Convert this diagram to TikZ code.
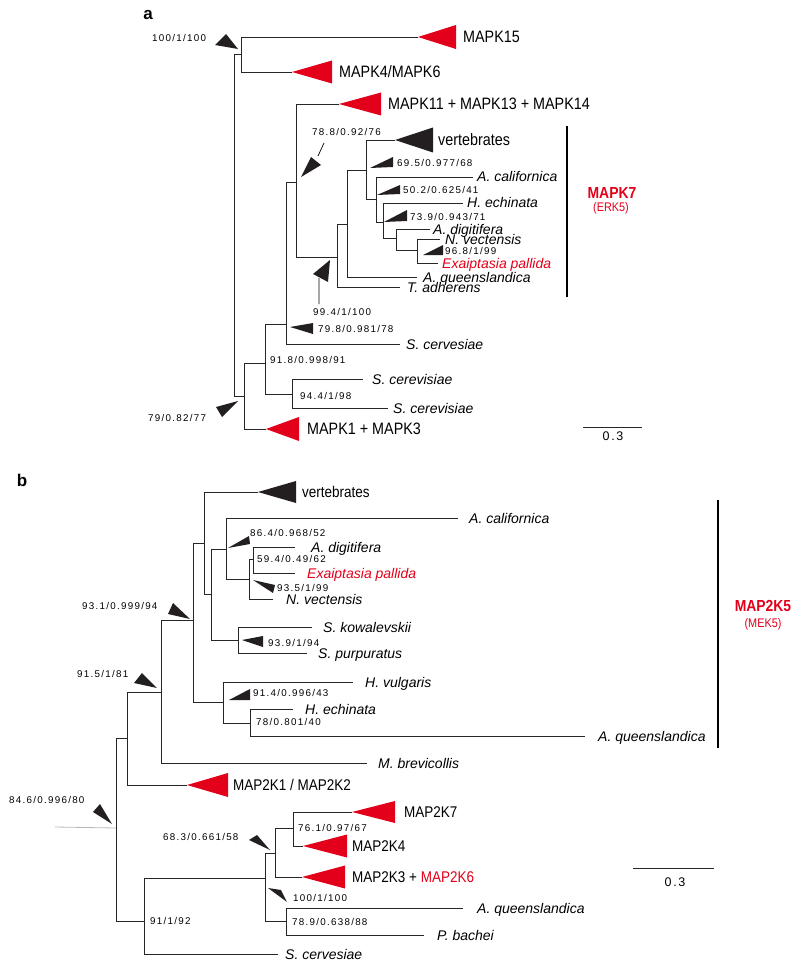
\documentclass[tikz,border=0pt]{standalone}
\usepackage{fontspec}
\setmainfont{Liberation Sans}
\newfontfamily\cladefont[FakeStretch=0.87]{Liberation Sans}
\newfontfamily\supfont[LetterSpace=13]{Liberation Sans}
\usepackage{xcolor}
\usetikzlibrary{positioning}
\definecolor{cladered}{RGB}{226,0,26}
\definecolor{tipblack}{RGB}{35,31,32}
\newcommand{\clade}[4]{\fill[#4] (#1) -- ++(#2,#3) -- ++(0,-2*#3) -- cycle;}

\begin{document}
\begin{tikzpicture}[x=1pt, y=-1pt]
\tikzstyle{br} = [draw=black!85, line width=0.8pt]
\tikzstyle{bar} = [draw=black, line width=1.8pt]
\tikzstyle{sp} = [font=\fontsize{14}{16}\selectfont\itshape, inner sep=0pt, text height=10pt, text depth=0pt]
\tikzstyle{clab} = [font=\cladefont\fontsize{16.5}{18}\selectfont, anchor=west, inner sep=0pt, text height=11.8pt, text depth=0pt]
\tikzstyle{clabb} = [font=\cladefont\fontsize{15.5}{17}\selectfont, anchor=west, inner sep=0pt, text height=11.1pt, text depth=0pt]
\tikzstyle{sup} = [font=\supfont\fontsize{9.8}{11}\selectfont, anchor=west, inner sep=0pt, text height=7pt, text depth=0pt]
\tikzstyle{grp} = [font=\cladefont\bfseries\fontsize{16}{18}\selectfont, text=cladered, inner sep=0pt]
\tikzstyle{grpsub} = [font=\cladefont\fontsize{12.5}{14}\selectfont, text=cladered, inner sep=0pt]
\tikzstyle{scl} = [font=\supfont\fontsize{12.5}{14}\selectfont, inner sep=0pt]
\tikzstyle{ttl} = [font=\bfseries\fontsize{17}{19}\selectfont, inner sep=0pt]
\useasboundingbox (0,0) rectangle (800,968);

% panel a
\node[ttl] (ta) at (148,15) {a};
\coordinate (aR) at (234,54);
\coordinate (aT) at (241,54);
\coordinate (aK15) at (418,37);
\coordinate (aK4) at (292,72);
\coordinate (aL) at (244,396);
\coordinate (aM) at (265,363);
\coordinate (aK1) at (266,429);
\coordinate (aN) at (286,324);
\coordinate (aS) at (292,394);
\coordinate (aSc1) at (363,379);
\coordinate (aSc2) at (388,408);
\coordinate (aSc0) at (400,344);
\coordinate (aE) at (296,182);
\coordinate (aK11) at (339,104);
\coordinate (a7) at (337,257);
\coordinate (aB) at (347,224);
\coordinate (aTa) at (400,287);
\coordinate (aV) at (366,170);
\coordinate (aAq) at (417,277);
\coordinate (aVt) at (395,140);
\coordinate (aC) at (376,199);
\coordinate (aAc) at (473,177);
\coordinate (aH) at (383,222);
\coordinate (aHe) at (463,203);
\coordinate (aD) at (396,238);
\coordinate (aAd) at (430,229);
\coordinate (aX) at (417,250);
\coordinate (aNv) at (440,239);
\coordinate (aEp) at (438,263);
\draw[br] (aR) -- (aT) (aR) |- (aL)
	(aT) |- (aK15) (aT) |- (aK4)
	(aL) |- (aM) (aL) |- (aK1)
	(aM) |- (aN) (aM) |- (aS)
	(aS) |- (aSc1) (aS) |- (aSc2)
	(aN) |- (aE) (aN) |- (aSc0)
	(aE) |- (aK11) (aE) |- (a7)
	(a7) |- (aB) (a7) |- (aTa)
	(aB) |- (aV) (aB) |- (aAq)
	(aV) |- (aVt) (aV) |- (aC)
	(aC) |- (aAc) (aC) |- (aH)
	(aH) |- (aHe) (aH) |- (aD)
	(aD) |- (aAd) (aD) |- (aX)
	(aX) |- (aNv) (aX) |- (aEp);
\clade{aK15}{38}{12}{cladered}
\clade{aK4}{40}{11.5}{cladered}
\clade{aK11}{42}{11.5}{cladered}
\clade{aVt}{38}{12.5}{tipblack}
\clade{aK1}{33}{12}{cladered}
\node[clab] (lK15) at (463,37) {MAPK15};
\node[clab] (lK4) at (339,72) {MAPK4/MAPK6};
\node[clab] (lK11) at (388,104) {MAPK11 + MAPK13 + MAPK14};
\node[clab] (lVt) at (438,140) {vertebrates};
\node[clab] (lK1) at (307,429) {MAPK1 + MAPK3};
\node[sp, right=4pt of aAc] (lAc) {A. californica};
\node[sp, right=4pt of aHe] (lHe) {H. echinata};
\node[sp, right=3pt of aAd] (lAd) {A. digitifera};
\node[sp, right=5pt of aNv] (lNv) {N. vectensis};
\node[sp, right=4pt of aEp, text=cladered] (lEp) {Exaiptasia pallida};
\node[sp, right=6pt of aAq] (lAq) {A. queenslandica};
\node[sp, right=7pt of aTa] (lTa) {T. adherens};
\node[sp, right=6pt of aSc0] (lSc0) {S. cervesiae};
\node[sp, right=9pt of aSc1] (lSc1) {S. cerevisiae};
\node[sp, right=5pt of aSc2] (lSc2) {S. cerevisiae};
% support
\fill[tipblack] (215,45) -- (226,34) -- (238,49) -- cycle;
\fill[tipblack] (301,177) -- (311,157) -- (321,165) -- cycle;
\fill[tipblack] (370,168) -- (393,157) -- (393,167) -- cycle;
\fill[tipblack] (377,195) -- (400,185) -- (400,194) -- cycle;
\fill[tipblack] (384,222) -- (407,210) -- (407,221) -- cycle;
\fill[tipblack] (423,255) -- (443,245) -- (443,255) -- cycle;
\fill[tipblack] (313,274) -- (330,260) -- (328,282) -- cycle;
\fill[tipblack] (290,327) -- (313,323) -- (313,334) -- cycle;
\fill[tipblack] (216,407) -- (238,401) -- (222,417) -- cycle;
\coordinate (q1) at (324,143);
\coordinate (q2) at (318,156);
\coordinate (q3) at (319,278);
\coordinate (q4) at (319,304);
\draw[black, line width=0.7pt] (q1) -- (q2) (q3) -- (q4);
\node[sup] (s1) at (152,38) {100/1/100};
\node[sup] (s2) at (312,132) {78.8/0.92/76};
\node[sup] (s3) at (397,163) {69.5/0.977/68};
\node[sup] (s4) at (403,190) {50.2/0.625/41};
\node[sup] (s5) at (410,217) {73.9/0.943/71};
\node[sup] (s6) at (445,251) {96.8/1/99};
\node[sup] (s7) at (313,312) {99.4/1/100};
\node[sup] (s8) at (318,329) {79.8/0.981/78};
\node[sup] (s9) at (270,360) {91.8/0.998/91};
\node[sup] (s10) at (300,396) {94.4/1/98};
\node[sup] (s11) at (148,418) {79/0.82/77};
% group bar and scale
\coordinate (gA1) at (567,126);
\coordinate (gA2) at (567,297);
\draw[bar] (gA1) -- (gA2);
\node[grp] (gA) at (612,193) {MAPK7};
\node[grpsub] (gAs) at (611,208) {(ERK5)};
\coordinate (sA1) at (583,427);
\coordinate (sA2) at (642,427);
\draw[br] (sA1) -- (sA2);
\node[scl] (sA) at (613,436) {0.3};

% panel b
\node[ttl] (tb) at (22,480) {b};
\coordinate (bS) at (55,827);
\coordinate (bR) at (116,828);
\coordinate (bA) at (127,738);
\coordinate (bG) at (144,921);
\coordinate (bB) at (161,692);
\coordinate (bK1) at (187,785);
\coordinate (bC) at (193,620);
\coordinate (bMb) at (367,763);
\coordinate (bD) at (204,543);
\coordinate (bH) at (223,702);
\coordinate (bVt) at (258,492);
\coordinate (bE) at (211,594);
\coordinate (bF) at (226,549);
\coordinate (bK) at (238,640);
\coordinate (bAc) at (458,518);
\coordinate (bN) at (249,579);
\coordinate (bX) at (253,559);
\coordinate (bNv) at (273,599);
\coordinate (bAd) at (295,547);
\coordinate (bEp) at (295,573);
\coordinate (bSk) at (312,627);
\coordinate (bSp) at (307,653);
\coordinate (bHv) at (353,682);
\coordinate (bY) at (250,723);
\coordinate (bHe) at (293,709);
\coordinate (bAq) at (585,736);
\coordinate (bM) at (265,878);
\coordinate (bSc) at (278,954);
\coordinate (bP) at (275,853);
\coordinate (bQ) at (286,921);
\coordinate (bJ) at (293,828);
\coordinate (bK3) at (302,877);
\coordinate (bK7) at (352,812);
\coordinate (bK4) at (303,846);
\coordinate (bAq2) at (463,908);
\coordinate (bPb) at (424,935);
\draw[gray!55, line width=0.8pt] (bS) -- (bR);
\draw[br] (bR) |- (bA) (bR) |- (bG)
	(bA) |- (bB) (bA) |- (bK1)
	(bB) |- (bC) (bB) |- (bMb)
	(bC) |- (bD) (bC) |- (bH)
	(bD) |- (bVt) (bD) |- (bE)
	(bE) |- (bF) (bE) |- (bK)
	(bF) |- (bAc) (bF) |- (bN)
	(bN) |- (bX) (bN) |- (bNv)
	(bX) |- (bAd) (bX) |- (bEp)
	(bK) |- (bSk) (bK) |- (bSp)
	(bH) |- (bHv) (bH) |- (bY)
	(bY) |- (bHe) (bY) |- (bAq)
	(bG) |- (bM) (bG) |- (bSc)
	(bM) |- (bP) (bM) |- (bQ)
	(bP) |- (bJ) (bP) |- (bK3)
	(bJ) |- (bK7) (bJ) |- (bK4)
	(bQ) |- (bAq2) (bQ) |- (bPb);
\clade{bVt}{38}{11}{tipblack}
\clade{bK1}{41}{12}{cladered}
\clade{bK7}{43}{11}{cladered}
\clade{bK4}{44}{11.5}{cladered}
\clade{bK3}{43}{11.5}{cladered}
\node[clabb] (mVt) at (302,492) {vertebrates};
\node[clabb] (mK1) at (233,785) {MAP2K1 / MAP2K2};
\node[clabb] (mK7) at (404,812) {MAP2K7};
\node[clabb] (mK4) at (352,846) {MAP2K4};
\node[clabb] (mK3) at (352,877) {MAP2K3 + \textcolor{cladered}{MAP2K6}};
\node[sp, right=11pt of bAc] (mAc) {A. californica};
\node[sp, right=16pt of bAd] (mAd) {A. digitifera};
\node[sp, right=12pt of bEp, text=cladered] (mEp) {Exaiptasia pallida};
\node[sp, right=13pt of bNv] (mNv) {N. vectensis};
\node[sp, right=11pt of bSk] (mSk) {S. kowalevskii};
\node[sp, right=11pt of bSp] (mSp) {S. purpuratus};
\node[sp, right=12pt of bHv] (mHv) {H. vulgaris};
\node[sp, right=12pt of bHe] (mHe) {H. echinata};
\node[sp, right=13pt of bAq] (mAq) {A. queenslandica};
\node[sp, right=11pt of bMb] (mMb) {M. brevicollis};
\node[sp, right=14pt of bAq2] (mAq2) {A. queenslandica};
\node[sp, right=13pt of bPb] (mPb) {P. bachei};
\node[sp, right=7pt of bSc] (mSc) {S. cervesiae};
% support
\fill[tipblack] (228,548) -- (249,536) -- (250,544) -- cycle;
\fill[tipblack] (253,580) -- (275,585) -- (273,593) -- cycle;
\fill[tipblack] (168,614) -- (173,603) -- (190,619) -- cycle;
\fill[tipblack] (242,640) -- (263,636) -- (263,647) -- cycle;
\fill[tipblack] (134,683) -- (142,673) -- (157,688) -- cycle;
\fill[tipblack] (229,700) -- (250,689) -- (250,700) -- cycle;
\fill[tipblack] (93,812) -- (100,804) -- (112,824) -- cycle;
\fill[tipblack] (249,840) -- (257,835) -- (270,850) -- cycle;
\fill[tipblack] (268,888) -- (281,890) -- (287,902) -- cycle;
\node[sup] (u1) at (250,533) {86.4/0.968/52};
\node[sup] (u2) at (257,559) {59.4/0.49/62};
\node[sup] (u3) at (277,588) {93.5/1/99};
\node[sup] (u4) at (82,606) {93.1/0.999/94};
\node[sup] (u5) at (268,643) {93.9/1/94};
\node[sup] (u6) at (77,674) {91.5/1/81};
\node[sup] (u7) at (253,693) {91.4/0.996/43};
\node[sup] (u8) at (256,722) {78/0.801/40};
\node[sup] (u9) at (9,800) {84.6/0.996/80};
\node[sup] (u10) at (163,837) {68.3/0.661/58};
\node[sup] (u11) at (298,828) {76.1/0.97/67};
\node[sup] (u12) at (293,898) {100/1/100};
\node[sup] (u13) at (292,922) {78.9/0.638/88};
\node[sup] (u14) at (150,921) {91/1/92};
% group bar and scale
\coordinate (gB1) at (718,500);
\coordinate (gB2) at (718,748);
\draw[bar] (gB1) -- (gB2);
\node[grp] (gB) at (763,606) {MAP2K5};
\node[grpsub] (gBs) at (763,624) {(MEK5)};
\coordinate (sB1) at (633,868);
\coordinate (sB2) at (714,868);
\draw[br] (sB1) -- (sB2);
\node[scl] (sB) at (675,882) {0.3};
\end{tikzpicture}
\end{document}
